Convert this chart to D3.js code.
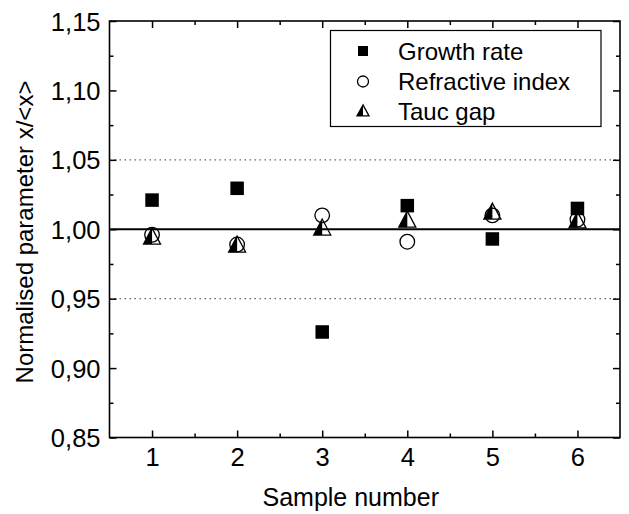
<!DOCTYPE html>
<html>
<head>
<meta charset="utf-8">
<script src="https://cdn.jsdelivr.net/npm/d3@7"></script>
<style>
  html, body { margin: 0; padding: 0; background: #fff; }
  svg { display: block; }
  text { font-family: Arial, "Liberation Sans", sans-serif; fill: #000; }
</style>
</head>
<body>
<svg id="chart" width="629" height="514"></svg>
<script>
// Sample numbers and normalised parameters x/<x>
const samples = [1, 2, 3, 4, 5, 6];
const growthRate = [1.021, 1.0295, 0.926, 1.017, 0.993, 1.015];
const refractiveIndex = [0.996, 0.989, 1.010, 0.991, 1.010, 1.007];
const taucGap = [0.9945, 0.9887, 1.001, 1.0067, 1.0125, 1.0062];

const yTicks = [0.85, 0.90, 0.95, 1.00, 1.05, 1.10, 1.15];
const yMinorTicks = [0.875, 0.925, 0.975, 1.025, 1.075, 1.125];
const xMinorTicks = [1.5, 2.5, 3.5, 4.5, 5.5];
const refLines = [0.95, 1.05];
const legendItems = ["Growth rate", "Refractive index", "Tauc gap"];

const svg = d3.select("#chart");
const plotLeft = 109.5, plotRight = 620, plotTop = 21, plotBottom = 437.5;

const x = d3.scaleLinear().domain([0.5, 6.5]).range([plotLeft, plotRight]);
const y = d3.scaleLinear().domain([0.85, 1.15]).range([plotBottom, plotTop]);

const fmt = d => d3.format(".2f")(d).replace(".", ",");
const tickFont = 25.5;

// dotted guides and the unit line
svg.selectAll("line.guide").data(refLines).join("line")
  .attr("class", "guide")
  .attr("x1", plotLeft).attr("x2", plotRight)
  .attr("y1", d => y(d)).attr("y2", d => y(d))
  .attr("stroke", "#666").attr("stroke-width", 1.3)
  .attr("stroke-dasharray", "1.5,3.5");

svg.append("line")
  .attr("x1", plotLeft).attr("x2", plotRight)
  .attr("y1", y(1)).attr("y2", y(1))
  .attr("stroke", "#000").attr("stroke-width", 2);

// axes with inward ticks on all four sides
function styleAxis(g) {
  g.select(".domain").remove();
  g.selectAll(".tick line").attr("stroke", "#000").attr("stroke-width", 1.5);
  g.selectAll(".tick text").attr("font-size", tickFont).attr("fill", "#000")
    .attr("font-family", "Arial, 'Liberation Sans', sans-serif");
}

svg.append("g").attr("transform", `translate(0,${plotBottom})`)
  .call(d3.axisBottom(x).tickValues(samples).tickSize(-7).tickFormat(d3.format("d")))
  .call(styleAxis)
  .call(g => g.selectAll(".tick text").attr("y", 28.5).attr("dy", 0));
svg.append("g").attr("transform", `translate(0,${plotBottom})`)
  .call(d3.axisBottom(x).tickValues(xMinorTicks).tickSize(-4).tickFormat(""))
  .call(styleAxis);
svg.append("g").attr("transform", `translate(0,${plotTop})`)
  .call(d3.axisTop(x).tickValues(samples).tickSize(-7).tickFormat(""))
  .call(styleAxis);
svg.append("g").attr("transform", `translate(0,${plotTop})`)
  .call(d3.axisTop(x).tickValues(xMinorTicks).tickSize(-4).tickFormat(""))
  .call(styleAxis);

svg.append("g").attr("transform", `translate(${plotLeft},0)`)
  .call(d3.axisLeft(y).tickValues(yTicks).tickSize(-7).tickFormat(fmt))
  .call(styleAxis)
  .call(g => g.selectAll(".tick text").attr("x", -9).attr("y", 9).attr("dy", 0));
svg.append("g").attr("transform", `translate(${plotLeft},0)`)
  .call(d3.axisLeft(y).tickValues(yMinorTicks).tickSize(-4).tickFormat(""))
  .call(styleAxis);
svg.append("g").attr("transform", `translate(${plotRight},0)`)
  .call(d3.axisRight(y).tickValues(yTicks).tickSize(-7).tickFormat(""))
  .call(styleAxis);
svg.append("g").attr("transform", `translate(${plotRight},0)`)
  .call(d3.axisRight(y).tickValues(yMinorTicks).tickSize(-4).tickFormat(""))
  .call(styleAxis);

// plot frame
svg.append("rect")
  .attr("x", plotLeft).attr("y", plotTop)
  .attr("width", plotRight - plotLeft).attr("height", plotBottom - plotTop)
  .attr("fill", "none").attr("stroke", "#000").attr("stroke-width", 1.6);

// axis titles
svg.append("text")
  .attr("x", (plotLeft + plotRight) / 2 - 14).attr("y", 505.5)
  .attr("text-anchor", "middle").attr("font-size", 25)
  .text("Sample number");
svg.append("text")
  .attr("transform", "translate(33,232) rotate(-90)")
  .attr("text-anchor", "middle").attr("font-size", 24)
  .text("Normalised parameter x/<x>");

// marker shapes
function drawSquare(g, s) {
  g.append("rect").attr("x", -s / 2).attr("y", -s / 2)
    .attr("width", s).attr("height", s).attr("fill", "#000");
}
function drawCircle(g, r) {
  g.append("circle").attr("r", r).attr("fill", "none")
    .attr("stroke", "#000").attr("stroke-width", 1.3);
}
function drawTriangle(g, w, h) {
  const a = -h * 0.55, b = h * 0.45;
  g.append("path").attr("d", `M0,${a}L${-w / 2},${b}L0,${b}Z`).attr("fill", "#000");
  g.append("path").attr("d", `M0,${a}L${-w / 2},${b}L${w / 2},${b}Z`)
    .attr("fill", "none").attr("stroke", "#000").attr("stroke-width", 1.3)
    .attr("stroke-linejoin", "miter");
}

const marks = svg.append("g");
samples.forEach((s, i) => {
  drawSquare(marks.append("g").attr("transform", `translate(${x(s)},${y(growthRate[i])})`), 13.5);
});
samples.forEach((s, i) => {
  drawCircle(marks.append("g").attr("transform", `translate(${x(s)},${y(refractiveIndex[i])})`), 7.3);
});
samples.forEach((s, i) => {
  drawTriangle(marks.append("g").attr("transform", `translate(${x(s)},${y(taucGap[i])})`), 17, 16);
});

// legend
const legend = svg.append("g");
legend.append("rect")
  .attr("x", 330.5).attr("y", 30.5).attr("width", 270.5).attr("height", 96)
  .attr("fill", "#fff").attr("stroke", "#000").attr("stroke-width", 1.2);
const rowY = [51, 81.5, 111];
legendItems.forEach((label, i) => {
  const g = legend.append("g").attr("transform", `translate(363,${rowY[i]})`);
  if (i === 0) drawSquare(g, 10);
  if (i === 1) drawCircle(g, 5.5);
  if (i === 2) drawTriangle(g, 12, 11);
  legend.append("text")
    .attr("x", 398).attr("y", rowY[i] + 8.5)
    .attr("font-size", 24).text(label);
});
</script>
</body>
</html>
